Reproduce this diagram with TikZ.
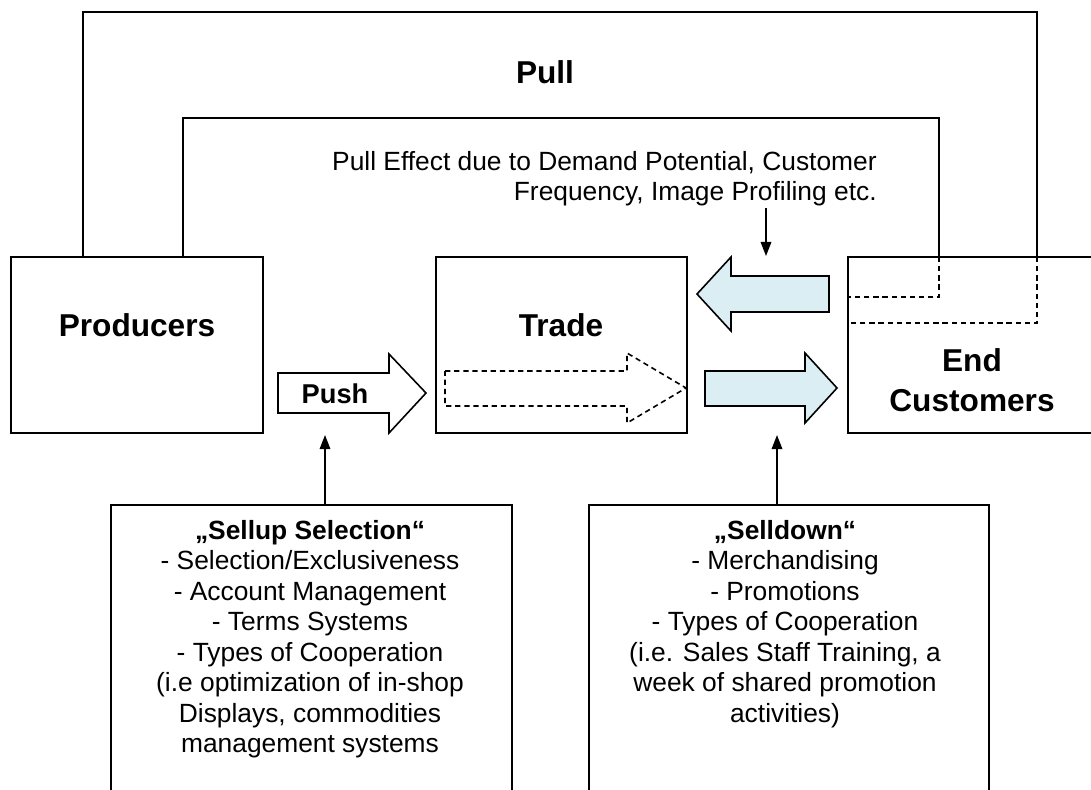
\documentclass[tikz,border=0pt]{standalone}
\usepackage{fontspec}
\setmainfont{Liberation Sans}
\usetikzlibrary{arrows.meta,calc}
\definecolor{pullblue}{RGB}{218,238,243}

\begin{document}
\begin{tikzpicture}[x=0.02cm,y=-0.02cm,
  box/.style={draw,rectangle,line width=0.9pt,inner sep=0pt},
  boxtitle/.style={inner sep=0pt,font=\fontsize{18}{22.8}\selectfont\bfseries,align=center},
  boxtext/.style={inner sep=0pt,font=\fontsize{15}{17.35}\selectfont,align=center},
  pullline/.style={line width=0.9pt},
  dashline/.style={line width=0.9pt,dash pattern=on 3pt off 2.2pt},
  pointer/.style={line width=0.9pt,-{Triangle[width=6pt,length=8pt]}},
  blockarrow/.style={draw,line width=0.9pt,line join=miter}]
\useasboundingbox (0,0) rectangle (1091,789);
\clip (0,0) rectangle (1091,789);

% Main boxes
\node[box,minimum width=5.04cm,minimum height=3.52cm] (prod) at (137,345) {};
\node[box,minimum width=5.02cm,minimum height=3.52cm] (trade) at (561.5,345) {};
\node[box,minimum width=5.2cm,minimum height=3.52cm] (endc) at (978,345) {};
\node[boxtitle] (prodt) at (137,325) {Producers};
\node[boxtitle] (tradet) at (561,325) {Trade};
\node[boxtitle,anchor=north] (endct) at (972,348) {End\\Customers};

% Pull loops
\node[boxtitle] (pull) at (545,72) {Pull};
\coordinate (outerL) at (83,257);
\coordinate (outerR) at (1037,257);
\coordinate (outerE) at (848,323);
\coordinate (innerL) at (183,257);
\coordinate (innerR) at (939,257);
\coordinate (innerE) at (848,297);
\draw[pullline] (outerL) -- (83,12) -- (1037,12) -- (outerR);
\draw[dashline] (outerR) -- (1037,323) -- (outerE);
\draw[pullline] (innerL) -- (183,118) -- (939,118) -- (innerR);
\draw[dashline] (innerR) -- (939,297) -- (innerE);

% Pull effect note
\node[boxtext,anchor=north east,align=right] (effect) at (877,151) {Pull Effect due to Demand Potential, Customer\\Frequency, Image Profiling etc.};
\coordinate (effectfoot) at (766,208);
\coordinate (effecttip) at (766,256);
\draw[pointer] (effectfoot) -- (effecttip);

% Push arrow
\draw[blockarrow,fill=white] (278,373) -- (389,373) -- (389,354) -- (426,393) -- (389,433) -- (389,413) -- (278,413) -- cycle;
\node[inner sep=0pt,font=\fontsize{15.5}{18}\selectfont\bfseries] (push) at (335,394) {Push};

% Flow through trade
\draw[dashline] (445,371) -- (627,371) -- (627,353) -- (686,388) -- (627,423) -- (627,406) -- (445,406) -- cycle;
\draw[blockarrow,fill=pullblue] (705,371) -- (805,371) -- (805,353) -- (837,388) -- (805,423) -- (805,406) -- (705,406) -- cycle;
\draw[blockarrow,fill=pullblue] (829,276) -- (731,276) -- (731,257) -- (697,294) -- (731,331) -- (731,312) -- (829,312) -- cycle;

% Sellup / Selldown boxes
\node[box,minimum width=8.02cm,minimum height=6.4cm,anchor=north] (sellup) at (311.5,504) {};
\node[box,minimum width=8cm,minimum height=6.4cm,anchor=north] (selldown) at (789,504) {};
\node[boxtext,anchor=north] (sellupt) at (310,520) {\textbf{„Sellup Selection“}\\- Selection/Exclusiveness\\- Account Management\\- Terms Systems\\- Types of Cooperation\\(i.e optimization of in-shop\\Displays, commodities\\management systems};
\node[boxtext,anchor=north] (selldownt) at (785,520) {\textbf{„Selldown“}\\- Merchandising\\- Promotions\\- Types of Cooperation\\(i.e. Sales Staff Training, a\\week of shared promotion\\activities)};

% Connections
\coordinate (pushfoot) at (325,435);
\coordinate (selltip) at (777,435);
\draw[pointer] (sellup.north -| pushfoot) -- (pushfoot);
\draw[pointer] (selldown.north -| selltip) -- (selltip);
\end{tikzpicture}
\end{document}
